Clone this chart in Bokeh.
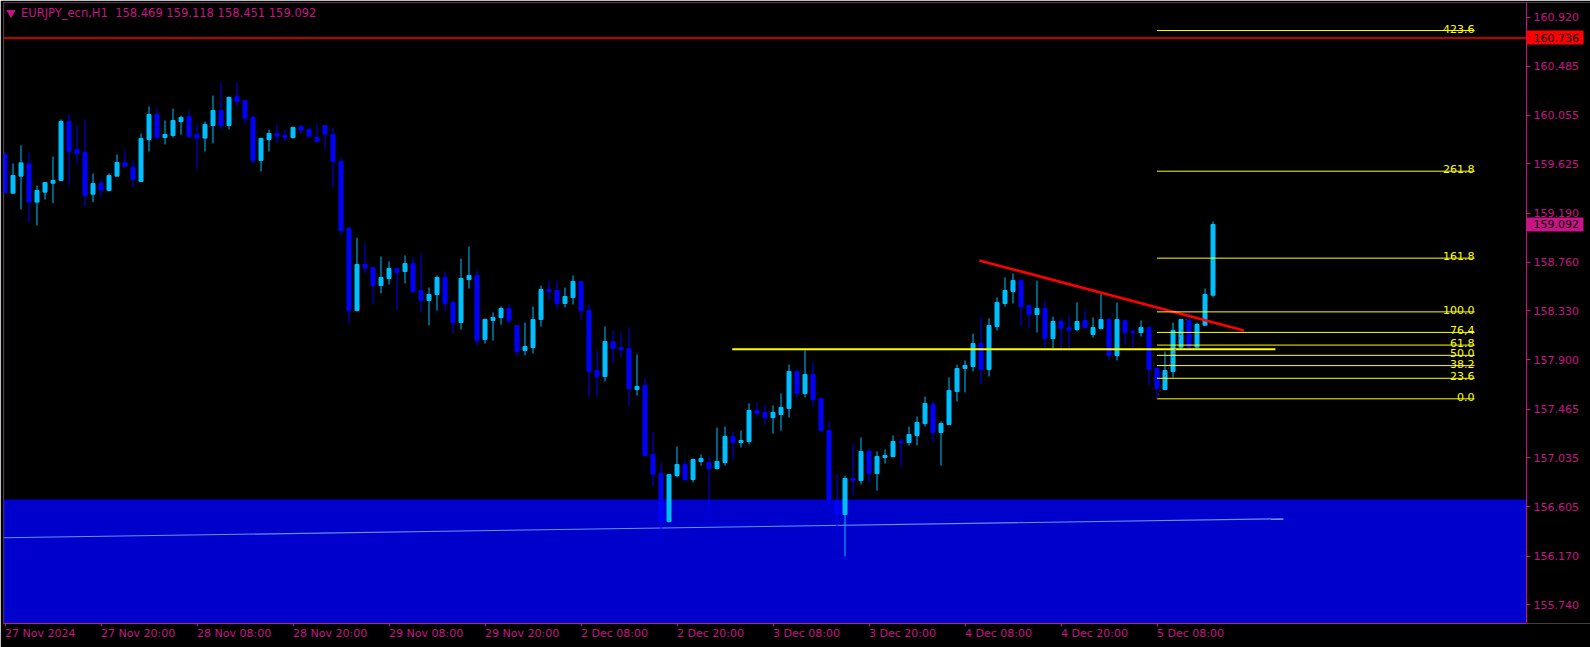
from bokeh.plotting import figure
from bokeh.models import Range1d, FixedTicker, PrintfTickFormatter, BoxAnnotation, Label, LinearAxis
from bokeh.embed import file_html
from bokeh.resources import INLINE
from bokeh.core.properties import value

# ---------------- data (EURJPY_ecn, H1) ----------------
opens = [159.709, 159.368, 159.518, 159.626, 159.289, 159.377, 159.456, 159.479, 159.999, 159.753,
         159.726, 159.359, 159.453, 159.391, 159.518, 159.638, 159.594, 159.471, 159.841, 160.061,
         159.858, 159.876, 159.999, 160.043, 159.885, 159.853, 159.964, 160.096, 159.964, 160.220,
         160.184, 160.035, 159.656, 159.841, 159.894, 159.876, 159.858, 159.955, 159.929, 159.858,
         159.964, 159.885, 159.647, 159.057, 158.334, 158.739, 158.713, 158.554, 158.616, 158.704,
         158.678, 158.748, 158.510, 158.422, 158.475, 158.625, 158.405, 158.228, 158.607, 158.643,
         158.079, 158.246, 158.272, 158.352, 158.202, 157.982, 158.008, 158.255, 158.519, 158.510,
         158.396, 158.449, 158.590, 158.334, 157.806, 157.753, 158.061, 158.008, 157.999, 157.638,
         157.673, 157.065, 156.898, 156.475, 156.880, 156.977, 156.845, 157.004, 156.995, 156.942,
         156.995, 157.224, 157.171, 157.180, 157.453, 157.436, 157.391, 157.418, 157.471, 157.797,
         157.603, 157.770, 157.559, 157.277, 156.660, 156.537, 156.854, 156.836, 157.092, 156.898,
         157.039, 157.048, 157.180, 157.171, 157.233, 157.338, 157.506, 157.259, 157.330, 157.620,
         157.823, 157.841, 158.043, 157.814, 158.193, 158.396, 158.502, 158.598, 158.378, 158.299,
         158.352, 158.087, 158.237, 158.184, 158.167, 158.246, 158.123, 158.176, 158.255, 157.938,
         158.246, 158.149, 158.140, 158.184, 157.823, 157.638, 157.797, 158.011, 158.246, 158.011,
         158.205, 158.469]
highs = [159.729, 159.629, 159.788, 159.726, 159.435, 159.462, 159.691, 160.017, 160.067, 159.964,
         160.017, 159.541, 159.479, 159.541, 159.709, 159.744, 159.656, 159.894, 160.132, 160.120,
         160.008, 160.114, 160.052, 160.096, 159.973, 159.999, 160.228, 160.343, 160.220, 160.343,
         160.184, 160.052, 159.858, 159.929, 159.973, 159.929, 159.955, 159.964, 159.947, 159.982,
         159.964, 159.941, 159.682, 159.074, 158.977, 158.924, 158.713, 158.810, 158.766, 158.704,
         158.819, 158.801, 158.836, 158.537, 158.643, 158.678, 158.422, 158.792, 158.898, 158.687,
         158.264, 158.317, 158.370, 158.387, 158.202, 158.228, 158.369, 158.554, 158.598, 158.598,
         158.537, 158.642, 158.590, 158.387, 157.982, 158.193, 158.158, 158.140, 158.184, 157.947,
         157.744, 157.259, 156.995, 156.889, 157.136, 157.013, 157.030, 157.065, 157.048, 157.303,
         157.312, 157.268, 157.277, 157.515, 157.524, 157.506, 157.497, 157.603, 157.858, 157.806,
         157.982, 157.876, 157.568, 157.356, 156.889, 156.880, 157.154, 157.215, 157.118, 157.092,
         157.109, 157.233, 157.206, 157.312, 157.400, 157.576, 157.532, 157.356, 157.744, 157.858,
         157.894, 158.131, 158.272, 158.264, 158.449, 158.625, 158.660, 158.616, 158.387, 158.598,
         158.422, 158.281, 158.264, 158.290, 158.405, 158.343, 158.273, 158.484, 158.264, 158.405,
         158.255, 158.167, 158.246, 158.184, 157.841, 157.973, 158.228, 158.262, 158.320, 158.228,
         158.528, 159.118]
lows = [159.371, 159.368, 159.224, 159.112, 159.083, 159.312, 159.280, 159.479, 159.435, 159.626,
        159.245, 159.289, 159.342, 159.391, 159.518, 159.606, 159.421, 159.471, 159.735, 159.841,
        159.797, 159.858, 159.885, 159.858, 159.576, 159.735, 159.806, 159.929, 159.929, 160.132,
        159.973, 159.629, 159.559, 159.735, 159.806, 159.823, 159.850, 159.894, 159.861, 159.823,
        159.753, 159.418, 158.995, 158.223, 158.325, 158.660, 158.387, 158.484, 158.563, 158.334,
        158.572, 158.484, 158.317, 158.202, 158.334, 158.334, 158.131, 158.167, 158.528, 158.026,
        158.043, 158.070, 158.210, 158.220, 157.929, 157.938, 157.955, 158.193, 158.422, 158.352,
        158.361, 158.387, 158.255, 157.576, 157.576, 157.709, 157.867, 157.920, 157.497, 157.585,
        157.048, 156.784, 156.360, 156.466, 156.863, 156.828, 156.819, 156.968, 156.510, 156.933,
        156.968, 157.021, 157.127, 157.154, 157.400, 157.330, 157.250, 157.277, 157.391, 157.568,
        157.568, 157.488, 157.259, 156.625, 156.378, 156.167, 156.704, 156.801, 156.819, 156.748,
        156.986, 157.039, 156.960, 157.145, 157.145, 157.312, 157.171, 156.968, 157.330, 157.532,
        157.612, 157.797, 157.682, 157.753, 158.158, 158.369, 158.396, 158.193, 158.176, 158.140,
        157.999, 157.999, 157.973, 157.973, 158.149, 158.176, 158.096, 158.167, 157.903, 157.894,
        158.034, 158.000, 158.105, 157.673, 157.559, 157.638, 157.744, 157.996, 157.996, 158.002,
        158.202, 158.451]
closes = [159.371, 159.524, 159.635, 159.289, 159.391, 159.462, 159.479, 159.999, 159.735, 159.717,
          159.347, 159.453, 159.394, 159.524, 159.638, 159.606, 159.488, 159.850, 160.061, 159.858,
          159.885, 160.008, 160.035, 159.867, 159.853, 159.973, 160.096, 159.964, 160.211, 160.176,
          160.029, 159.656, 159.850, 159.894, 159.870, 159.858, 159.947, 159.923, 159.870, 159.823,
          159.888, 159.647, 159.039, 158.334, 158.739, 158.707, 158.554, 158.625, 158.704, 158.669,
          158.748, 158.502, 158.422, 158.475, 158.625, 158.396, 158.228, 158.616, 158.643, 158.070,
          158.255, 158.272, 158.352, 158.246, 157.973, 158.017, 158.255, 158.519, 158.502, 158.396,
          158.457, 158.590, 158.334, 157.797, 157.753, 158.061, 157.999, 157.990, 157.647, 157.665,
          157.057, 156.889, 156.475, 156.889, 156.977, 156.845, 157.021, 157.030, 156.942, 157.004,
          157.224, 157.171, 157.189, 157.453, 157.427, 157.391, 157.436, 157.480, 157.797, 157.603,
          157.770, 157.550, 157.277, 156.660, 156.543, 156.854, 156.836, 157.092, 156.898, 157.048,
          157.057, 157.180, 157.171, 157.242, 157.347, 157.515, 157.259, 157.338, 157.629, 157.823,
          157.850, 158.043, 157.814, 158.202, 158.405, 158.510, 158.598, 158.369, 158.299, 158.352,
          158.087, 158.237, 158.179, 158.161, 158.237, 158.184, 158.184, 158.255, 157.938, 158.255,
          158.140, 158.140, 158.184, 157.814, 157.647, 157.806, 158.158, 158.255, 158.011, 158.211,
          158.475, 159.092]

x_tick_bars = [0, 12, 24, 36, 48, 60, 72, 84, 96, 108, 120, 132, 144]
x_tick_labels = ["27 Nov 2024", "27 Nov 20:00", "28 Nov 08:00", "28 Nov 20:00", "29 Nov 08:00",
                 "29 Nov 20:00", "2 Dec 08:00", "2 Dec 20:00", "3 Dec 08:00", "3 Dec 20:00",
                 "4 Dec 08:00", "4 Dec 20:00", "5 Dec 08:00"]
y_ticks = [160.920, 160.485, 160.055, 159.625, 159.190, 158.760, 158.330,
           157.900, 157.465, 157.035, 156.605, 156.170, 155.740]

fib_levels = [0.0, 23.6, 38.2, 50.0, 61.8, 76.4, 100.0, 161.8, 261.8, 423.6]
fib_texts = ["0.0", "23.6", "38.2", "50.0", "61.8", "76,4", "100.0", "161.8", "261.8", "423.6"]
fib_low, fib_high = 157.556, 158.322
fib_low_bar, fib_high_bar, fib_end_bar = 144, 148, 183.7

trend_bars = [121.8, 154.85]
trend_prices = [158.775, 158.158]
support_bars = [90.9, 158.8]
support_price = 157.993
zone_top = 156.669
channel_bars = [-0.2, 159.8]
channel_prices = [156.332, 156.499]
resist_price = 160.736
last_price = 159.092
title_text = "EURJPY_ecn,H1\u00a0\u00a0158.469 159.118 158.451 159.092"

# ---------------- styles / geometry ----------------
MAGENTA = "#C71585"
BULL = "#00BFFF"
BEAR = "#0000FF"
FONT = "DejaVu Sans"
PX_PER_BAR = 8.0
FRAME_W, FRAME_H = 1587, 621
X_START = -0.1875
X_AXIS = X_START + 1523 / PX_PER_BAR      # price-scale position (chart right edge)
X_END = X_START + FRAME_W / PX_PER_BAR
Y_BOT, Y_TOP = 155.5764, 161.0478

p = figure(frame_width=FRAME_W, frame_height=FRAME_H,
           x_range=Range1d(X_START, X_END), y_range=Range1d(Y_BOT, Y_TOP),
           output_backend="svg", toolbar_location=None, y_axis_location=None,
           background_fill_color="black", border_fill_color="black",
           min_border_left=3, min_border_top=2, min_border_right=0, min_border_bottom=20)
p.margin = (0, 0, 0, 0)
p.grid.visible = False
p.outline_line_color = None

# time axis
xa = p.xaxis[0]
xa.ticker = FixedTicker(ticks=x_tick_bars)
xa.major_label_overrides = {b: t for b, t in zip(x_tick_bars, x_tick_labels)}
xa.bounds = (X_START, X_AXIS)
xa.axis_line_color = MAGENTA
xa.major_tick_line_color = MAGENTA
xa.minor_tick_line_color = None
xa.major_tick_in = 0
xa.major_tick_out = 3
xa.major_label_text_color = MAGENTA
xa.major_label_text_font = FONT
xa.major_label_text_font_size = "11px"
xa.major_label_standoff = 7
xa.major_label_orientation = -0.0001

# price axis (drawn at the chart's right edge)
ya = LinearAxis(fixed_location=X_AXIS, ticker=FixedTicker(ticks=y_ticks),
                formatter=PrintfTickFormatter(format="%.3f"),
                axis_line_color=MAGENTA, major_tick_line_color=MAGENTA, minor_tick_line_color=None,
                major_tick_in=0, major_tick_out=4, major_label_standoff=3,
                major_label_text_color=MAGENTA, major_label_text_font=FONT,
                major_label_text_font_size="11px")
p.add_layout(ya, "right")


def price_tag(price, fill):
    ax = LinearAxis(fixed_location=X_AXIS, ticker=FixedTicker(ticks=[price]),
                    formatter=PrintfTickFormatter(format="%.3f"),
                    axis_line_color=None, minor_tick_line_color=None,
                    major_tick_in=0, major_tick_out=57, major_tick_line_width=14,
                    major_tick_line_color=fill, major_tick_line_cap="butt",
                    major_label_standoff=-50, major_label_text_color="black",
                    major_label_text_font=FONT, major_label_text_font_size="11px")
    p.add_layout(ax, "right")


# support zone
p.add_layout(BoxAnnotation(top=zone_top, left=X_START, right=X_AXIS, fill_color="#0000CD",
                           fill_alpha=1.0, line_alpha=0, level="underlay"))
p.line(channel_bars, channel_prices, line_color="#6495ED", line_width=1.2)

# candles
idx = list(range(len(opens)))
cols = [BULL if c >= o else BEAR for o, c in zip(opens, closes)]
tops = [max(o, c) for o, c in zip(opens, closes)]
bots = [min(o, c) for o, c in zip(opens, closes)]
p.segment(x0=idx, y0=lows, x1=idx, y1=highs, line_color=cols, line_width=1)
p.vbar(x=idx, width=0.5, top=tops, bottom=bots, fill_color=cols, line_color=cols, line_width=1)

# lines
p.segment(x0=[X_START], x1=[X_AXIS], y0=[resist_price], y1=[resist_price], line_color="red", line_width=1.5)
p.line(support_bars, [support_price, support_price], line_color="yellow", line_width=2)
p.line(trend_bars, trend_prices, line_color="red", line_width=2.5)

# fibonacci
fib_prices = [fib_low + (fib_high - fib_low) * lv / 100.0 for lv in fib_levels]
p.segment(x0=[fib_low_bar] * len(fib_prices), x1=[fib_end_bar] * len(fib_prices),
          y0=fib_prices, y1=fib_prices, line_color="yellow", line_width=1)
p.line([fib_low_bar, fib_high_bar], [fib_low, fib_high], line_color="red", line_width=1, line_dash="1 3")
p.text(x=[fib_end_bar] * len(fib_prices), y=fib_prices, text=fib_texts, text_align="right",
       text_baseline="alphabetic", y_offset=-2, text_color="yellow",
       text_font=value(FONT), text_font_size="11px")

# chart border
p.add_layout(BoxAnnotation(left=X_START + 0.5 / PX_PER_BAR, right=X_AXIS,
                           top=Y_TOP - 0.5 / 113.5, bottom=Y_BOT,
                           fill_alpha=0, line_color=MAGENTA, line_width=1))

# title
p.scatter(x=[0.75], y=[160.958], marker="inverted_triangle", size=8, color=MAGENTA)
p.add_layout(Label(x=2.0, y=160.952, text=title_text, text_color=MAGENTA, text_font=FONT,
                   text_font_size="11.5px", text_baseline="middle", text_align="left"))

# price tags on the price axis
price_tag(resist_price, "red")
price_tag(last_price, MAGENTA)

open("out.html", "w").write(file_html(p, INLINE))
